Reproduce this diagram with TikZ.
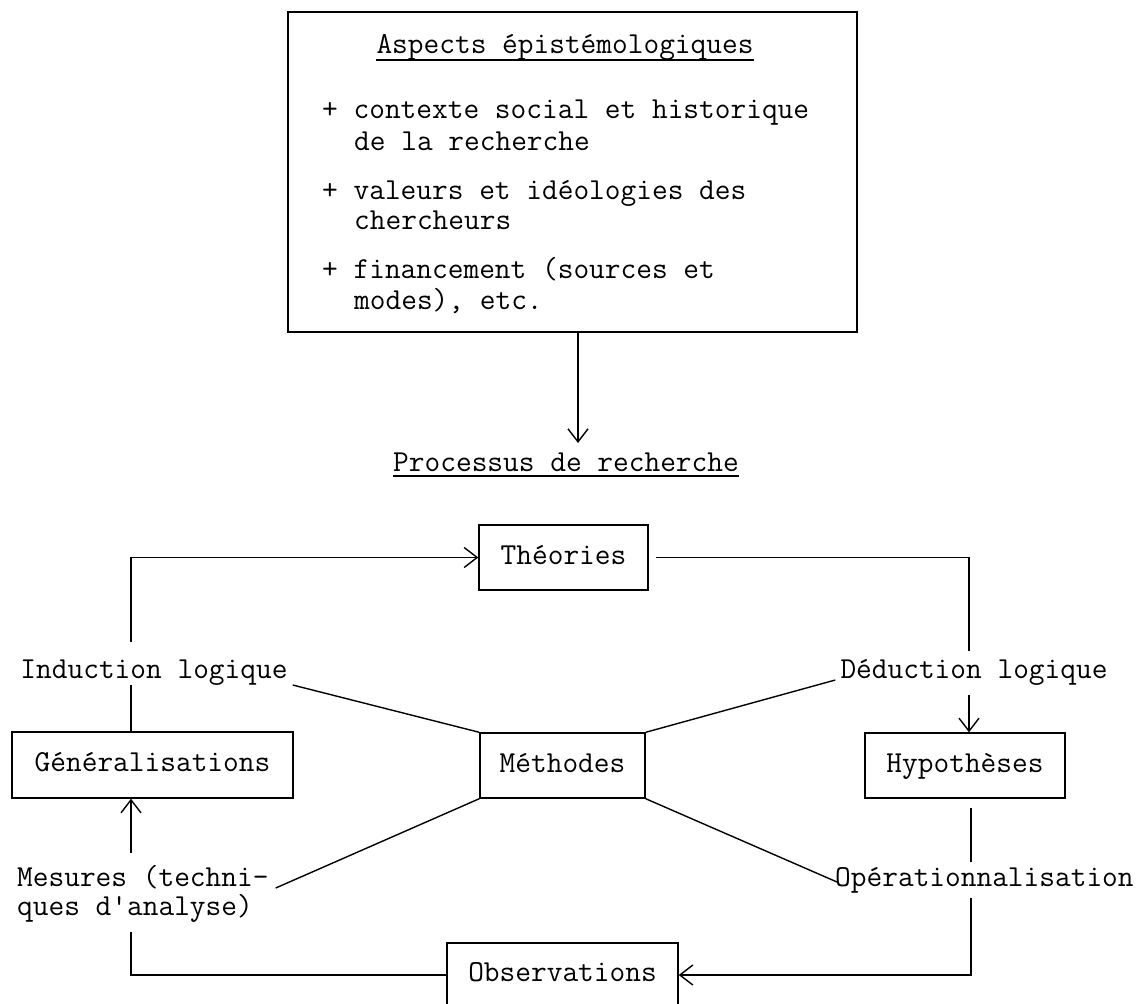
\documentclass[tikz,border=0pt]{standalone}
\usepackage{fontspec}
\usetikzlibrary{arrows.meta}
\begin{document}
\begin{tikzpicture}[x=1pt,y=-1pt,
  every node/.style={font=\ttfamily\fontsize{30.5pt}{35pt}\selectfont, inner sep=0pt},
  box/.style={draw, line width=1.4pt, text height=18pt, text depth=5pt},
  ln/.style={line width=1.4pt},
  arr/.style={ln, -{Straight Barb[length=13pt,width=20pt,line width=1.4pt]}}]
\useasboundingbox (0,0) rectangle (1147,1003);
\clip (0,0) rectangle (1147,1003);
\fill[white] (0,0) rectangle (1147,1003);

% top box
\node[draw, line width=2pt, minimum width=569pt, minimum height=320pt] (epi) at (572.5,172) {};
\node[anchor=base] (ttl) at (565,54) {Aspects épistémologiques};
\draw[ln] ([yshift=-6pt]ttl.base west) -- ([yshift=-6pt]ttl.base east);
\node[anchor=base west] (c1a) at (322,119) {+ contexte social et historique};
\node[anchor=base west] (c1b) at (354,150) {de la recherche};
\node[anchor=base west] (c2a) at (322,199) {+ valeurs et idéologies des};
\node[anchor=base west] (c2b) at (354,229) {chercheurs};
\node[anchor=base west] (c3a) at (322,278) {+ financement (sources et};
\node[anchor=base west] (c3b) at (354,309) {modes), etc.};

% process title
\node[anchor=base] (proc) at (566,471) {Processus de recherche};
\draw[ln] ([yshift=-5pt]proc.base west) -- ([yshift=-5pt]proc.base east);
\coordinate (a1) at (578,443);
\draw[arr] (epi.south -| a1) -- (a1);

% boxes
\node[box, minimum width=169pt, minimum height=65pt] (theo) at (563.5,557.5) {Théories};
\node[box, minimum width=281pt, minimum height=66pt] (gen) at (152.5,765) {Généralisations};
\node[box, minimum width=165pt, minimum height=65pt] (meth) at (562.5,765.5) {Méthodes};
\node[box, minimum width=200pt, minimum height=65pt] (hyp) at (965,765.5) {Hypothèses};
\node[box, minimum width=231pt, minimum height=64pt] (obs) at (562.5,975) {Observations};

% labels
\node[anchor=base] (ind) at (154,678) {Induction logique};
\node[anchor=base] (ded) at (974,678) {Déduction logique};
\node[anchor=base west] (mes1) at (17,886) {Mesures (techni-};
\node[anchor=base west] (mes2) at (17,915) {ques d\textquotesingle analyse)};
\node[anchor=base west] (ope) at (835,886) {Opérationnalisation};

% left column
\coordinate (L1) at (131,642);
\coordinate (L2) at (131,685);
\coordinate (L3) at (131,853);
\coordinate (L4) at (131,932);
\draw[arr] (L1) |- (theo.west);
\draw[ln] (L2) -- (gen.north -| L2);
\draw[arr] (L3) -- (gen.south -| L3);
\draw[ln] (L4) |- (obs.west);

% right column
\coordinate (R1) at (969,651);
\coordinate (R2) at (969,695);
\coordinate (R3) at (971,808);
\coordinate (R4) at (971,862);
\coordinate (R5) at (971,898);
\draw[ln] ([xshift=7pt]theo.east) -| (R1);
\draw[arr] (R2) -- (hyp.north -| R2);
\draw[ln] (R3) -- (R4);
\draw[arr] (R5) |- (obs.east);

% diagonals to methods
\draw[ln] ([shift={(5pt,-7pt)}]ind.base east) -- (meth.north west);
\draw[ln] ([shift={(-5pt,-2pt)}]ded.base west) -- (meth.north east);
\draw[ln] ([shift={(7pt,-2pt)}]mes1.base east) -- (meth.south west);
\draw[ln] ([shift={(2pt,4pt)}]ope.base west) -- (meth.south east);
\end{tikzpicture}
\end{document}
